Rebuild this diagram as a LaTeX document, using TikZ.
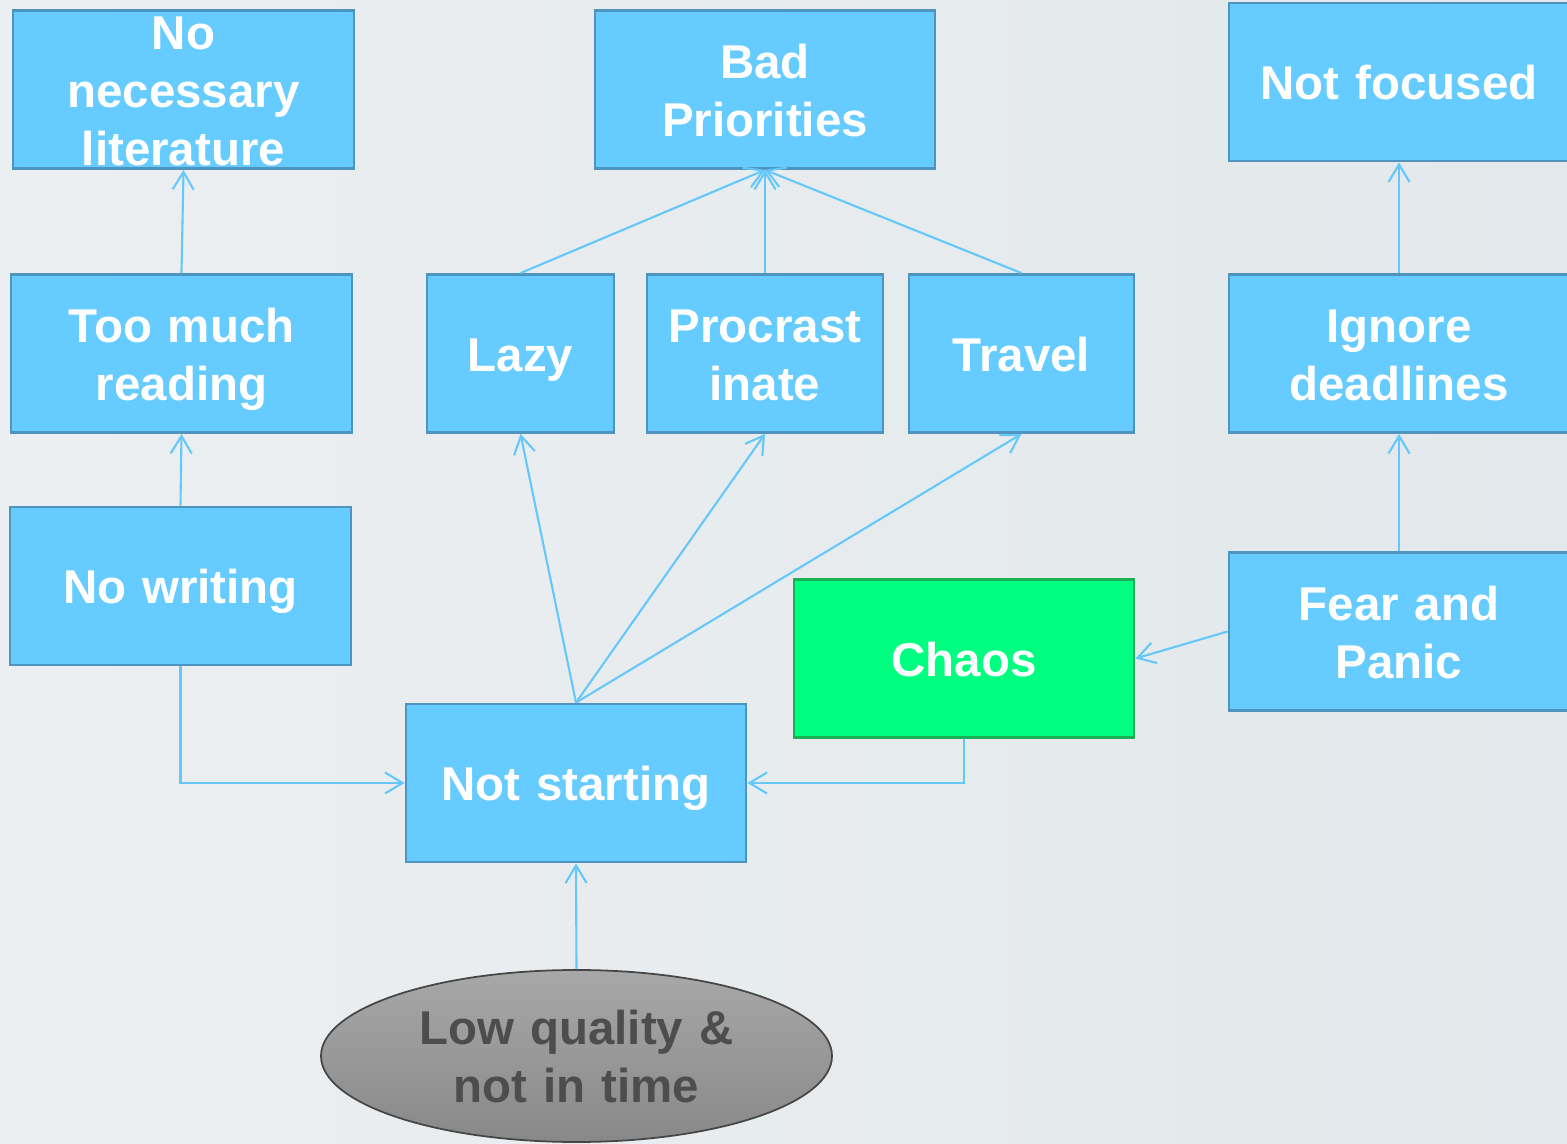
\documentclass[tikz,border=0pt]{standalone}
\usepackage{fontspec}
\setmainfont{Liberation Sans}
\usetikzlibrary{arrows.meta,shapes.geometric}
\definecolor{boxblue}{HTML}{66CCFF}
\definecolor{boxline}{HTML}{4F94BF}
\definecolor{chaosgreen}{HTML}{00FF80}
\definecolor{chaosline}{HTML}{1DAF55}
\definecolor{linkblue}{HTML}{66C8FA}
\definecolor{lowtext}{HTML}{4D4D4D}
\tikzset{
    cause/.style={rectangle, draw=boxline, fill=boxblue, line width=0.8pt, inner sep=0pt,
        text width=3.4cm, minimum height=1.58cm, align=center, text=white,
        text height=10pt, text depth=0pt,
        font=\fontsize{13.5}{16.5}\selectfont\bfseries}, % blue boxes
    two lines/.style={text depth=16.5pt},
    three lines/.style={text depth=33pt},
    link/.style={draw=linkblue, line width=0.6pt, -{Straight Barb[length=5pt, width=6pt]}} % connectors
}

\begin{document}
\begin{tikzpicture}
    \def\xmax{15.67} \def\ymin{-11.44}
    \useasboundingbox (0,0) rectangle (\xmax,\ymin);
    \clip (0,0) rectangle (\xmax,\ymin);
    \shade[left color={rgb,255:red,236;green,239;blue,241}, right color={rgb,255:red,226;green,232;blue,235}] (0,0) rectangle (\xmax,\ymin);

    % top row
    \node[cause, three lines, text width=3.41cm] (lit) at (1.835,-0.895) {No\\necessary\\literature};
    \node[cause, two lines] (prio) at (7.65,-0.895) {Bad\\Priorities};
    \node[cause] (focus) at (13.99,-0.82) {Not focused};

    % middle row
    \node[cause, two lines, text width=3.41cm] (reading) at (1.815,-3.535) {Too much\\reading};
    \node[cause, text width=1.87cm] (lazy) at (5.205,-3.535) {Lazy};
    \node[cause, two lines, text width=2.36cm] (procr) at (7.65,-3.535) {Procrast\\inate};
    \node[cause, text width=2.25cm] (travel) at (10.215,-3.535) {Travel};
    \node[cause, two lines] (ignore) at (13.99,-3.535) {Ignore\\deadlines};

    \node[cause, text width=3.41cm] (writing) at (1.805,-5.86) {No writing};
    \node[cause, fill=chaosgreen, draw=chaosline] (chaos) at (9.64,-6.585) {Chaos};
    \node[cause, two lines] (fear) at (13.99,-6.315) {Fear and\\Panic};
    \node[cause] (start) at (5.76,-7.83) {Not starting};

    \node[ellipse, draw={rgb,255:red,70;green,70;blue,70}, line width=0.5pt, top color={rgb,255:red,168;green,168;blue,168},
        bottom color={rgb,255:red,136;green,136;blue,136}, minimum width=5.11cm, minimum height=1.72cm, inner sep=0pt,
        text width=3.3cm, text height=10pt, text depth=16.5pt, align=center, text=lowtext,
        font=\fontsize{13.5}{16.5}\selectfont\bfseries] (low) at (5.765,-10.56) {Low quality \&\\not in time};

    \draw[link] (reading.north) -- (lit.south);
    \draw[link] (writing.north) -- (reading.south);
    \foreach \n in {lazy,procr,travel} {\draw[link] (\n.north) -- (prio.south);}
    \foreach \n in {lazy,procr,travel} {\draw[link] (start.north) -- (\n.south);}
    \draw[link] (ignore.north) -- (focus.south);
    \draw[link] (fear.north) -- (ignore.south);
    \draw[link] (fear.west) -- (chaos.east);
    \draw[link] (writing.south) |- (start.west);
    \draw[link] (chaos.south) |- (start.east);
    \draw[link] (low.north) -- (start.south);
\end{tikzpicture}
\end{document}
